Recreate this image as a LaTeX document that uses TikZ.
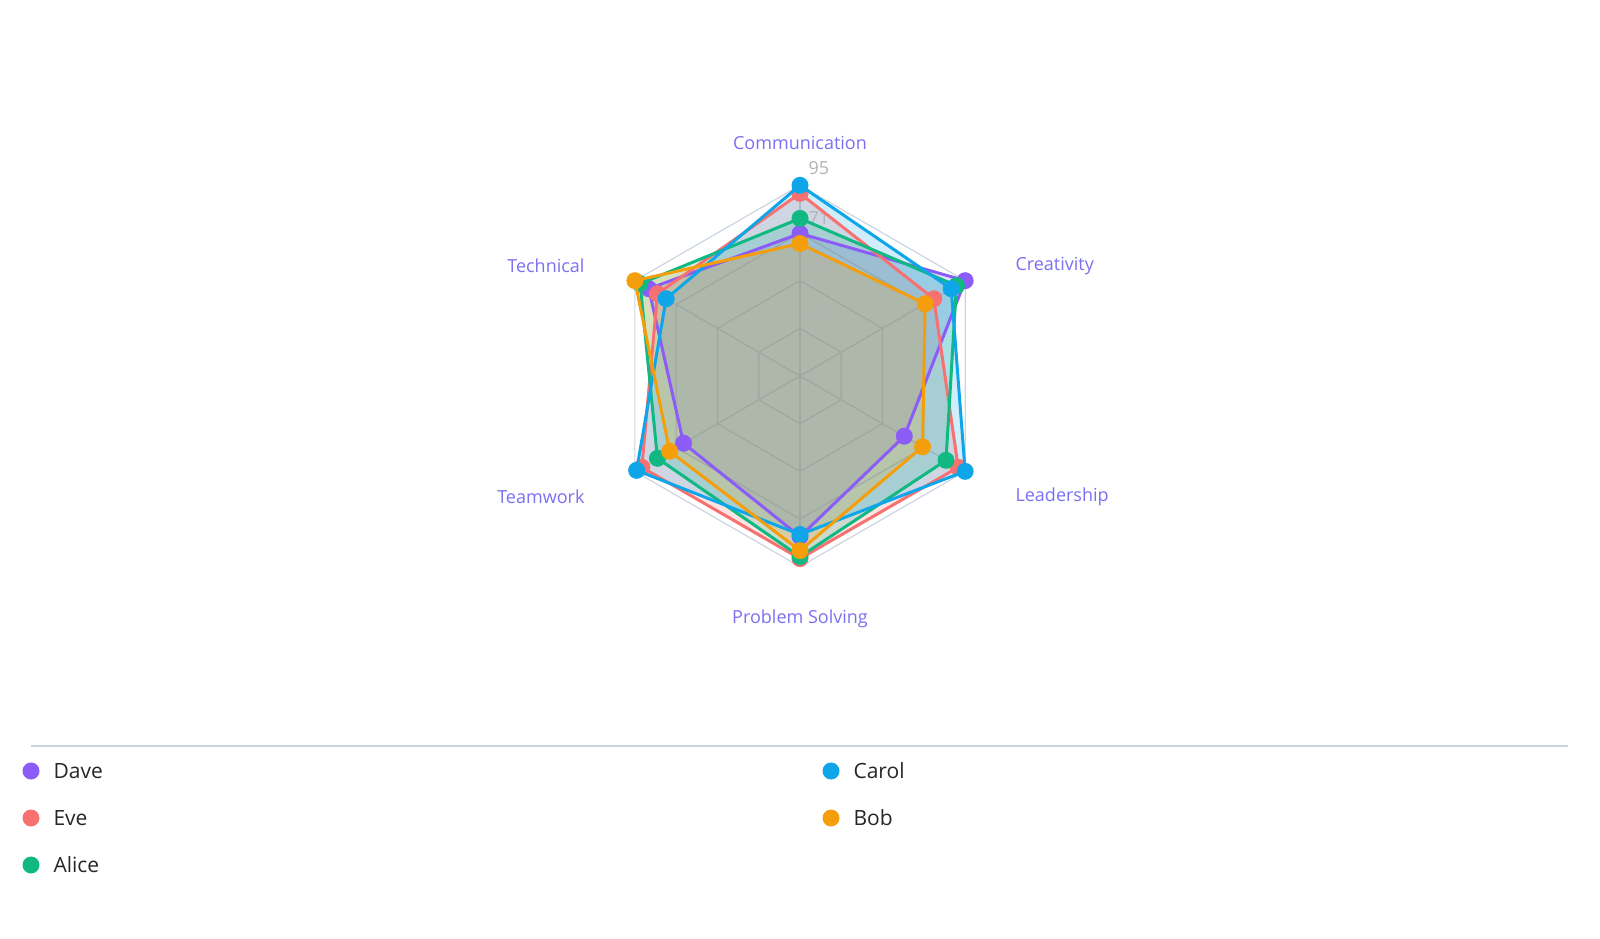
\documentclass[tikz,border=0pt]{standalone}
\usetikzlibrary{calc}
\usepackage{fontspec}
\setmainfont{Open Sans}
\begin{document}
\begin{tikzpicture}[x=1pt,y=-1pt,
  axl/.style={text=axc,font=\fontsize{18}{20}\selectfont},
  tick/.style={text=gray!60,font=\fontsize{18}{20}\selectfont,anchor=west},
  leg/.style={text=black!85,font=\fontsize{21}{24}\selectfont,anchor=west},
  dot/.style={circle,fill=#1,inner sep=0pt,minimum size=17pt}]
\definecolor{axc}{HTML}{7C6FF0}
\definecolor{cDave}{HTML}{8B5CF6}
\definecolor{cEve}{HTML}{F87171}
\definecolor{cAlice}{HTML}{10B981}
\definecolor{cCarol}{HTML}{0EA5E9}
\definecolor{cBob}{HTML}{F59E0B}
\definecolor{gridc}{HTML}{CBD5E1}
\useasboundingbox (0,0) rectangle (1600,938);
\def\R{190.7}
\coordinate (C) at (800,376);
\newcommand\hexg[2]{%
  \draw[#2] ($(C)+(0,-#1)$) \foreach \a in {30,-30,-90,-150,150}{ -- ($(C)+({cos(\a)*#1},{-sin(\a)*#1})$)} -- cycle;}
\foreach \k in {1,2,3,4}{\pgfmathsetmacro\rr{\k*\R/4}\hexg{\rr}{gridc,line width=1.2pt}}
\foreach \a in {90,30,-30,-90,-150,150}{\draw[gridc,line width=1.2pt] (C) -- ($(C)+({cos(\a)*\R},{-sin(\a)*\R})$);}
\newcommand\series[7]{%
  \fill[#1,fill opacity=0.2] ($(C)+(0,-#2*2.007)$) -- ($(C)+({cos(30)*#3*2.007},{-sin(30)*#3*2.007})$) -- ($(C)+({cos(30)*#4*2.007},{sin(30)*#4*2.007})$) -- ($(C)+(0,#5*2.007)$) -- ($(C)+({-cos(30)*#6*2.007},{sin(30)*#6*2.007})$) -- ($(C)+({-cos(30)*#7*2.007},{-sin(30)*#7*2.007})$) -- cycle;}
\newcommand\sline[7]{%
  \draw[#1,line width=3pt,line join=round] ($(C)+(0,-#2*2.007)$) coordinate (p1) -- ($(C)+({cos(30)*#3*2.007},{-sin(30)*#3*2.007})$) coordinate (p2) -- ($(C)+({cos(30)*#4*2.007},{sin(30)*#4*2.007})$) coordinate (p3) -- ($(C)+(0,#5*2.007)$) coordinate (p4) -- ($(C)+({-cos(30)*#6*2.007},{sin(30)*#6*2.007})$) coordinate (p5) -- ($(C)+({-cos(30)*#7*2.007},{-sin(30)*#7*2.007})$) coordinate (p6) -- cycle;
  \foreach \p in {p1,p2,p3,p4,p5,p6}{\node[dot=#1] at (\p) {};}}
\series{cDave}{71}{95}{60}{80}{67}{87}
\series{cEve}{91}{77}{91}{91}{91}{82}
\series{cAlice}{78.5}{90}{84}{90}{82}{92}
\series{cCarol}{95}{87}{95}{79}{94}{77}
\series{cBob}{66}{72}{70.5}{87}{75}{95}
\foreach \k in {1,2,3}{\pgfmathsetmacro\rr{\k*\R/4}\hexg{\rr}{gray!70,line width=1.2pt,opacity=0.6}}
\foreach \a in {90,30,-30,-90,-150,150}{\draw[gray!70,line width=1.2pt,opacity=0.6] (C) -- ($(C)+({cos(\a)*\R*0.75},{-sin(\a)*\R*0.75})$);}
\node[tick] (t24) at (805,313) {24};
\node[tick] (t48) at (805,265) {48};
\node[tick] (t71) at (805,218) {71};
\node[tick] (t95) at (805,168) {95};
\sline{cDave}{71}{95}{60}{80}{67}{87}
\sline{cEve}{91}{77}{91}{91}{91}{82}
\sline{cAlice}{78.5}{90}{84}{90}{82}{92}
\sline{cCarol}{95}{87}{95}{79}{94}{77}
\sline{cBob}{66}{72}{70.5}{87}{75}{95}
\node[axl] (l1) at (800,143) {Communication};
\node[axl,anchor=west] (l2) at (1012,266) {Creativity};
\node[axl,anchor=west] (l3) at (1012,497) {Leadership};
\node[axl] (l4) at (800,619) {Problem Solving};
\node[axl,anchor=east] (l5) at (588,497) {Teamwork};
\node[axl,anchor=east] (l6) at (588,266) {Technical};
\draw[gridc,line width=1.2pt] (31,746) coordinate (a) -- (1568,746) coordinate (b);
\node[dot=cDave] (d1) at (31,771) {}; \node[leg] at (50,771) {Dave};
\node[dot=cEve] (d2) at (31,818) {}; \node[leg] at (50,818) {Eve};
\node[dot=cAlice] (d3) at (31,865) {}; \node[leg] at (50,865) {Alice};
\node[dot=cCarol] (d4) at (831,771) {}; \node[leg] at (850,771) {Carol};
\node[dot=cBob] (d5) at (831,818) {}; \node[leg] at (850,818) {Bob};
\end{tikzpicture}
\end{document}
